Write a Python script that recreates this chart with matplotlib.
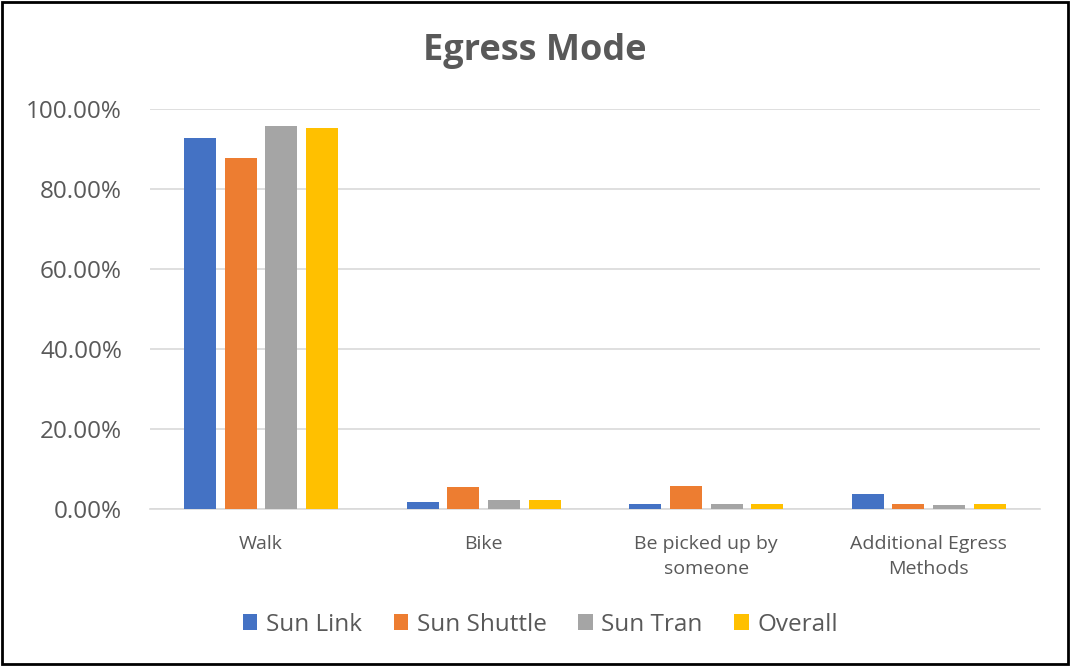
import matplotlib
matplotlib.use("Agg")
import matplotlib.pyplot as plt
import numpy as np
from matplotlib.ticker import FuncFormatter

plt.rcParams["font.family"] = ["Open Sans", "DejaVu Sans"]

categories = ["Walk", "Bike", "Be picked up by\nsomeone", "Additional Egress\nMethods"]
series = ["Sun Link", "Sun Shuttle", "Sun Tran", "Overall"]
sun_link = [92.8, 1.8, 1.2, 3.8]
sun_shuttle = [87.8, 5.4, 5.7, 1.2]
sun_tran = [95.8, 2.2, 1.2, 0.9]
overall = [95.3, 2.2, 1.2, 1.2]
colors = ["#4472C4", "#ED7D31", "#A5A5A5", "#FFC000"]
TXT = "#595959"

fig = plt.figure(figsize=(10.7, 6.66), dpi=100)
ax = fig.add_axes([0.140, 0.236, 0.832, 0.6005])

x = np.arange(len(categories))
step, width = 0.183, 0.144
for k, (name, vals) in enumerate(zip(series, [sun_link, sun_shuttle, sun_tran, overall])):
    ax.bar(x + (k - 1.5) * step, np.array(vals) / 100, width,
           color=colors[k], label=name, zorder=3)

ax.set_xlim(-0.5, len(categories) - 0.5)
ax.set_ylim(0, 1.0)
ax.set_yticks(np.arange(0, 1.01, 0.2))
ax.yaxis.set_major_formatter(FuncFormatter(lambda v, p: f"{v * 100:.2f}%"))
ax.grid(axis="y", color="#D9D9D9", lw=1.2, zorder=0)
for s in ["top", "right", "left"]:
    ax.spines[s].set_visible(False)
ax.spines["bottom"].set_color("#D9D9D9")
ax.spines["bottom"].set_linewidth(1.2)
ax.tick_params(axis="y", length=0, labelsize=17.5, labelcolor=TXT, pad=20)
ax.tick_params(axis="x", length=0, labelsize=14, labelcolor=TXT, pad=19)
ax.set_xticks(x)
ax.set_xticklabels(categories, linespacing=1.5)

fig.suptitle("Egress Mode", x=0.500, y=0.950, fontsize=26, fontweight="bold", color=TXT)

leg = fig.legend(loc="center", bbox_to_anchor=(0.505, 0.062), ncol=4, frameon=False,
                 fontsize=17.5, handlelength=0.6, handleheight=0.6, handletextpad=0.35,
                 columnspacing=1.3)
for t in leg.get_texts():
    t.set_color(TXT)

fig.patches.append(plt.Rectangle((0.002, 0.003), 0.996, 0.994, transform=fig.transFigure,
                                 fill=False, edgecolor="#000000", lw=2))

fig.savefig("out.png", dpi=100)
